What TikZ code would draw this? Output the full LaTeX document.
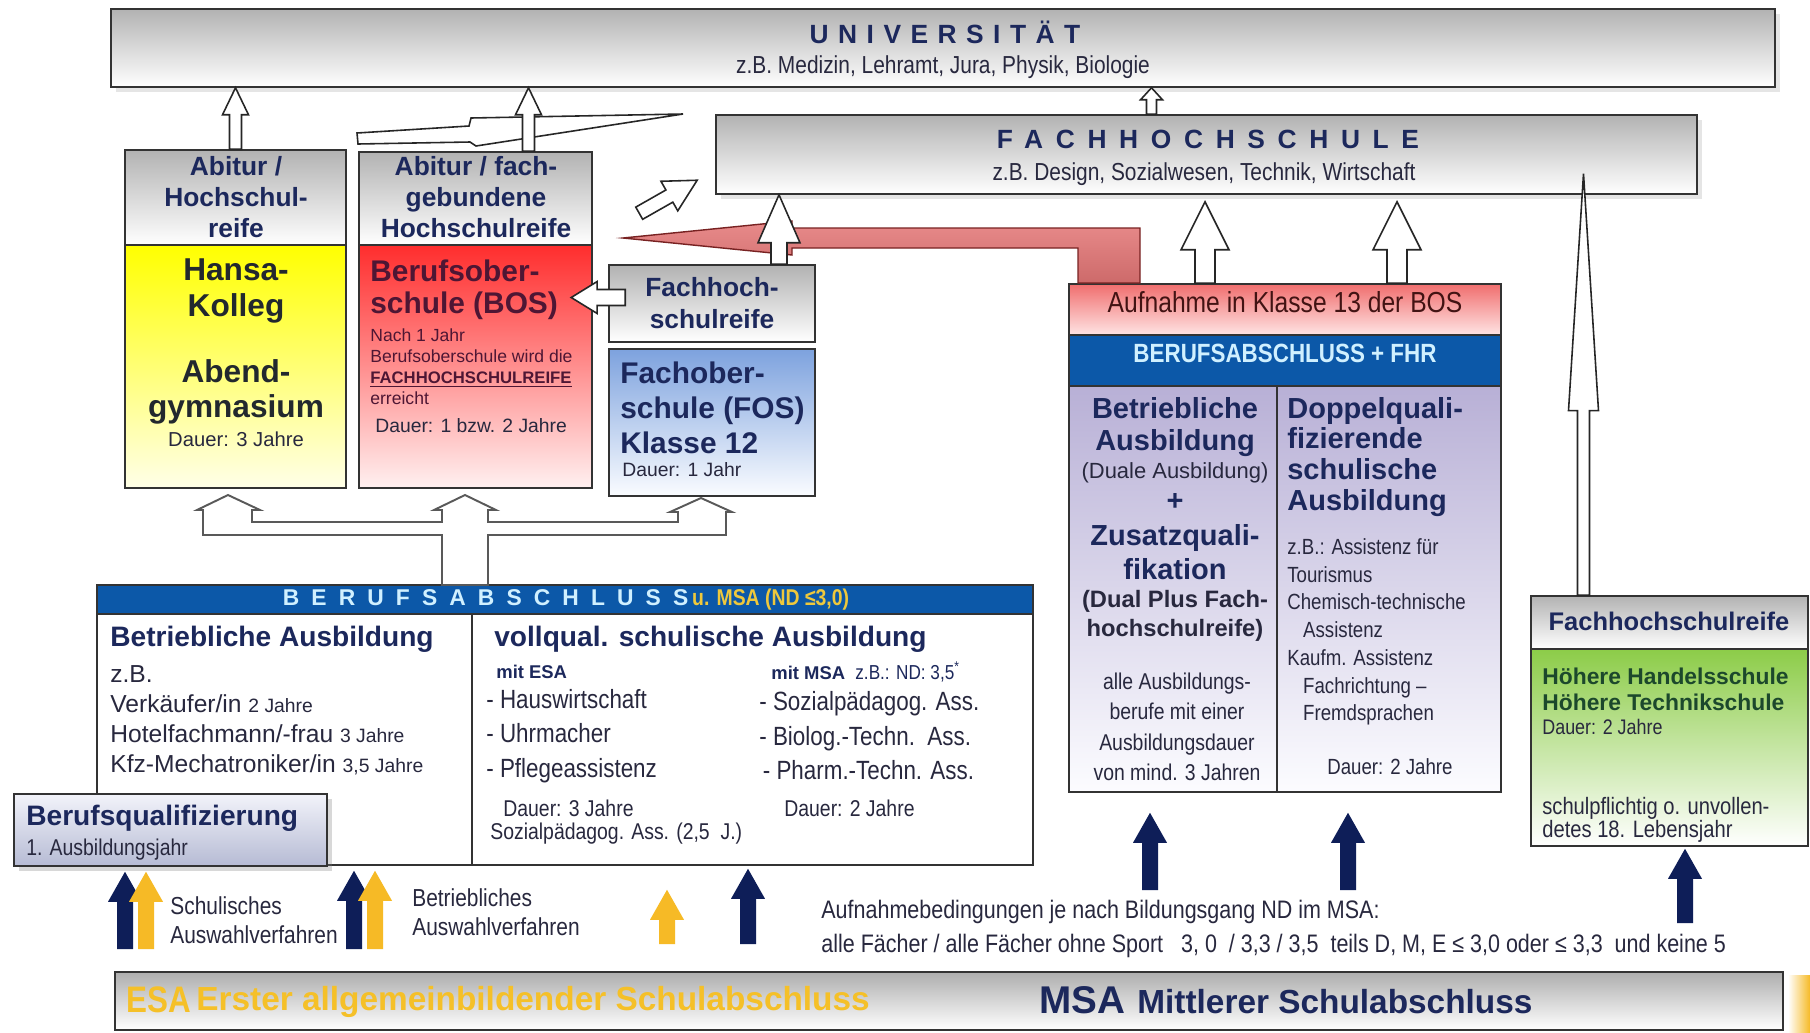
\documentclass[tikz,border=0pt]{standalone}
\usepackage{fontspec}
\setmainfont{Liberation Sans}
\newfontfamily\narrowfont[FakeStretch=0.85]{Liberation Sans}
\usepackage{tikz}
\usetikzlibrary{fit,calc,shadows}

\definecolor{navy}{RGB}{28,40,92}
\definecolor{darktext}{RGB}{40,40,62}
\definecolor{arrnavy}{RGB}{14,30,88}
\definecolor{arryellow}{RGB}{246,186,38}
\definecolor{bandblue}{RGB}{12,88,168}
\definecolor{bandtext}{RGB}{208,240,255}
\definecolor{msayellow}{RGB}{238,200,60}
\definecolor{esayellow}{RGB}{245,192,40}
\definecolor{bostext}{RGB}{78,22,52}
\definecolor{hansatext}{RGB}{34,40,46}
\definecolor{greentext}{RGB}{28,72,44}
\definecolor{redfill}{RGB}{228,118,118}
\definecolor{redline}{RGB}{120,34,34}
\definecolor{hansatop}{RGB}{255,255,0}
\definecolor{hansabot}{RGB}{255,255,232}
\definecolor{bostop}{RGB}{255,45,45}
\definecolor{bosbot}{RGB}{255,240,240}
\definecolor{fostop}{RGB}{125,162,222}
\definecolor{fosbot}{RGB}{250,252,255}
\definecolor{aufntop}{RGB}{240,110,110}
\definecolor{aufnbot}{RGB}{255,228,228}
\definecolor{lavtop}{RGB}{184,176,214}
\definecolor{lavbot}{RGB}{252,252,255}
\definecolor{bqtop}{RGB}{242,243,250}
\definecolor{bqbot}{RGB}{182,187,212}
\definecolor{greentop}{RGB}{140,204,72}
\definecolor{greenbot}{RGB}{255,255,255}

\newcommand{\fsz}[2]{\fontsize{#1}{#2}\selectfont}

% block arrow from #2 (tail) to #3 (tip); widths in px
\newcommand{\blockarrow}[6][]{%
  \path let \p1=(#2), \p2=(#3) in
    \pgfextra{\pgfmathsetmacro\tmpA{atan2(\y2-\y1,\x2-\x1)}%
      \pgfmathsetmacro\tmpL{veclen(\x2-\x1,\y2-\y1)/0.569055}%
      \xdef\baAng{\tmpA}\xdef\baLen{\tmpL}\xdef\baX{\x1}\xdef\baY{\y1}};
  \draw[hollow,#1,shift={(\baX,\baY)},rotate=\baAng,x=0.02cm,y=0.02cm]
    (0,-#4) -- ({\baLen-#6},-#4) -- ({\baLen-#6},-#5) -- (\baLen,0)
    -- ({\baLen-#6},#5) -- ({\baLen-#6},#4) -- (0,#4) -- cycle;}

\begin{document}
\begin{tikzpicture}[x=0.02cm,y=-0.02cm,
    box/.style={draw=black!80,line width=0.9pt,inner sep=0pt},
    greybox/.style={box,top color=black!30,bottom color=white},
    yellowbox/.style={box,top color=hansatop,bottom color=hansabot},
    redbox/.style={box,top color=bostop,bottom color=bosbot},
    bluebox/.style={box,top color=fostop,bottom color=fosbot},
    pinkbox/.style={box,top color=aufntop,bottom color=aufnbot},
    lavbox/.style={box,top color=lavtop,bottom color=lavbot},
    bqbox/.style={box,top color=bqtop,bottom color=bqbot},
    greenbox/.style={box,top color=greentop,bottom color=greenbot},
    bandbox/.style={box,fill=bandblue},
    lbl/.style={inner sep=0pt,text=navy},
    hollow/.style={draw=black!85,fill=white,line width=0.9pt,line join=miter},
    navyfill/.style={draw=none,fill=arrnavy},
    yellowfill/.style={draw=none,fill=arryellow}]

  \useasboundingbox (0,0) rectangle (1810,1032);
  \fill[white] (0,0) rectangle (1810,1032);

  % Universitaet / Fachhochschule
  \node[greybox,drop shadow={opacity=0.2},fit={(111,9)(1775,87)}] (uni) {};
  \node[lbl,font=\fsz{15}{17}\bfseries] (unit) at (945,32)
    {\addfontfeature{LetterSpace=36}UNIVERSITÄT};
  \node[lbl,text=darktext,font=\narrowfont\fsz{14}{15}] (unis) at (943,67)
    {z.B. Medizin, Lehramt, Jura, Physik, Biologie};

  \node[greybox,drop shadow={opacity=0.2},fit={(716,115)(1697,194)}] (fh) {};
  \node[lbl,font=\fsz{15}{17}\bfseries] (fht) at (1208,139)
    {\addfontfeature{LetterSpace=48}FACHHOCHSCHULE};
  \node[lbl,text=darktext,font=\narrowfont\fsz{14}{15}] (fhs) at (1204,174)
    {z.B. Design, Sozialwesen, Technik, Wirtschaft};

  % Hansa-Kolleg
  \node[greybox,fit={(125,150)(346,245)}] (abi1) {};
  \node[lbl,align=center,font=\fsz{15}{17.7}\bfseries] (abi1t) at (236,197)
    {Abitur /\\Hochschul-\\reife};
  \node[yellowbox,fit={(125,245)(346,488)}] (hansa) {};
  \node[lbl,align=center,text=hansatext,font=\fsz{18}{20}\bfseries] (hansat) at (236,291)
    {Hansa-\\Kolleg};
  \node[lbl,align=center,text=hansatext,font=\fsz{18}{20}\bfseries] (abendt) at (236,392)
    {Abend-\\gymnasium};
  \node[lbl,text=darktext,font=\fsz{11.5}{14}] (hansad) at (236,439) {Dauer: 3 Jahre};

  % BOS
  \node[greybox,fit={(359,152)(592,245)}] (abi2) {};
  \node[lbl,align=center,font=\fsz{15}{17.7}\bfseries] (abi2t) at (476,197)
    {Abitur / fach-\\gebundene\\Hochschulreife};
  \node[redbox,fit={(359,245)(592,488)}] (bos) {};
  \node[lbl,anchor=west,align=left,text=bostext,font=\fsz{17}{18.5}\bfseries] (bost) at (370,290)
    {Berufsober-\\schule (BOS)};
  \node[lbl,anchor=west,align=left,text=bostext,font=\fsz{10}{12}] (bosn) at (370,367)
    {Nach 1 Jahr\\Berufsoberschule wird die\\{\fsz{9.5}{12}\bfseries\underline{FACHHOCHSCHULREIFE}}\\erreicht};
  \node[lbl,anchor=west,text=darktext,font=\fsz{11}{13}] (bosd) at (375,426) {Dauer: 1 bzw. 2 Jahre};

  % FOS
  \node[greybox,fit={(609,265)(815,342)}] (fhrA) {};
  \node[lbl,align=center,font=\fsz{15}{18}\bfseries] (fhrAt) at (712,303)
    {Fachhoch-\\schulreife};
  \node[bluebox,fit={(609,349)(815,496)}] (fos) {};
  \node[lbl,anchor=west,align=left,font=\fsz{17}{20}\bfseries] (fost) at (620,408)
    {Fachober-\\schule (FOS)\\Klasse 12};
  \node[lbl,anchor=west,text=darktext,font=\fsz{11}{13}] (fosd) at (622,470) {Dauer: 1 Jahr};

  % Berufsabschluss + FHR
  \node[pinkbox,fit={(1069,284)(1501,335)}] (aufn) {};
  \node[lbl,text=redline!55!black,font=\narrowfont\fsz{16.5}{18}] (aufnt) at (1285,302)
    {Aufnahme in Klasse 13 der BOS};
  \node[bandbox,fit={(1069,335)(1501,386)}] (fhrband) {};
  \node[lbl,text=bandtext,font=\narrowfont\fsz{15}{17}\bfseries] (fhrbandt) at (1285,353)
    {BERUFSABSCHLUSS + FHR};
  \node[lavbox,fit={(1069,386)(1501,792)}] (dual) {};
  \draw[draw=black!80,line width=0.9pt] ($(dual.north)+(-8,0)$) -- ($(dual.south)+(-8,0)$);

  \node[lbl,align=center,font=\fsz{16.5}{18.2}\bfseries] (dual1) at (1175,427)
    {Betriebliche\\Ausbildung};
  \node[lbl,text=darktext,font=\fsz{12.5}{14}] (dual2) at (1175,473) {(Duale Ausbildung)};
  \node[lbl,font=\fsz{16.5}{18}\bfseries] (dual3) at (1175,502) {+};
  \node[lbl,align=center,font=\fsz{16.5}{19.4}\bfseries] (dual4) at (1175,552)
    {Zusatzquali-\\fikation};
  \node[lbl,align=center,text=darktext,font=\fsz{13.5}{16.5}\bfseries] (dual5) at (1175,616)
    {(Dual Plus Fach-\\hochschulreife)};
  \node[lbl,align=center,text=darktext,font=\narrowfont\fsz{13}{17.3}] (dual6) at (1177,727)
    {alle Ausbildungs-\\berufe mit einer\\Ausbildungsdauer\\von mind. 3 Jahren};

  \node[lbl,anchor=west,align=left,font=\fsz{16.5}{17.6}\bfseries] (dq1) at (1287,457)
    {Doppelquali-\\fizierende\\schulische\\Ausbildung};
  \node[lbl,anchor=west,align=left,text=darktext,font=\narrowfont\fsz{12.5}{15.8}] (dq2) at (1287,632)
    {z.B.: Assistenz für\\Tourismus\\Chemisch-technische\\\hspace*{9pt}Assistenz\\Kaufm. Assistenz\\\hspace*{9pt}Fachrichtung \textendash\\\hspace*{9pt}Fremdsprachen};
  \node[lbl,anchor=west,text=darktext,font=\narrowfont\fsz{12.5}{14}] (dq3) at (1327,767) {Dauer: 2 Jahre};

  % Berufsabschluss u. MSA
  \node[bandbox,fit={(97,585)(1033,614)}] (baband) {};
  \node[lbl,text=bandtext,font=\fsz{13}{14}\bfseries] (babandt) at (566,600)
    {{\addfontfeature{LetterSpace=53}BERUFSABSCHLUSS}\,{\narrowfont\color{msayellow}u. MSA (ND ≤3,0)}};
  \node[box,fill=white,fit={(97,614)(1033,865)}] (ba) {};
  \draw[draw=black!80,line width=0.9pt] ($(ba.north west)+(376,0)$) -- ($(ba.south west)+(376,0)$);

  \node[lbl,anchor=west,font=\fsz{16}{18}\bfseries] (bat1) at (110,639) {Betriebliche Ausbildung};
  \node[lbl,anchor=west,align=left,text=darktext,font=\fsz{14}{17}] (bat2) at (110,720)
    {z.B.\\Verkäufer/in {\fsz{11}{17}2 Jahre}\\Hotelfachmann/-frau {\fsz{11}{17}3 Jahre}\\Kfz-Mechatroniker/in {\fsz{11}{17}3,5 Jahre}};
  \node[lbl,anchor=west,font=\fsz{16}{18}\bfseries] (bat3) at (494,639) {vollqual. schulische Ausbildung};
  \node[lbl,anchor=west,font=\fsz{10.5}{12}\bfseries] (bat4) at (496,672) {mit ESA};
  \node[lbl,anchor=west,font=\fsz{10.5}{12}] (bat5) at (771,672)
    {\textbf{mit MSA}\ \ {\narrowfont\fsz{11.5}{12}z.B.: ND: 3,5\textsuperscript{*}}};
  \node[lbl,anchor=west,align=left,text=darktext,font=\narrowfont\fsz{15}{19.6}] (bat6) at (486,736)
    {- Hauswirtschaft\\- Uhrmacher\\- Pflegeassistenz};
  \node[lbl,anchor=west,align=left,text=darktext,font=\narrowfont\fsz{15}{19.6}] (bat7) at (759,736)
    {- Sozialpädagog. Ass.\\- Biolog.-Techn.\ \ Ass.\\\hspace*{2pt}- Pharm.-Techn. Ass.};
  \node[lbl,anchor=west,text=darktext,font=\narrowfont\fsz{13}{15}] (bat8) at (503,808) {Dauer: 3 Jahre};
  \node[lbl,anchor=west,text=darktext,font=\narrowfont\fsz{13}{15}] (bat9) at (490,834) {Sozialpädagog. Ass. (2,5\ \ J.)};
  \node[lbl,anchor=west,text=darktext,font=\narrowfont\fsz{13}{15}] (bat10) at (784,808) {Dauer: 2 Jahre};

  % Berufsqualifizierung
  \node[bqbox,drop shadow={opacity=0.3},fit={(14,794)(327,866)}] (bq) {};
  \node[lbl,anchor=west,font=\fsz{16}{18}\bfseries] (bqt) at (26,818) {Berufsqualifizierung};
  \node[lbl,anchor=west,text=darktext,font=\narrowfont\fsz{13}{15}] (bqs) at (26,850) {1. Ausbildungsjahr};

  % Hoehere Handels-/Technikschule
  \node[greybox,fit={(1531,596)(1808,649)}] (fhr2) {};
  \node[lbl,font=\fsz{14.5}{16}\bfseries] (fhr2t) at (1669,621) {Fachhochschulreife};
  \node[greenbox,fit={(1531,649)(1808,846)}] (hhs) {};
  \node[lbl,anchor=west,align=left,text=greentext,font=\fsz{13}{14.8}\bfseries] (hhst) at (1542,689)
    {Höhere Handelsschule\\Höhere Technikschule};
  \node[lbl,anchor=west,text=darktext,font=\narrowfont\fsz{12}{14}] (hhsd) at (1542,727) {Dauer: 2 Jahre};
  \node[lbl,anchor=west,align=left,text=darktext,font=\narrowfont\fsz{13.5}{13.2}] (hhsl) at (1542,820)
    {schulpflichtig o. unvollen-\\detes 18. Lebensjahr};

  % ESA / MSA
  \node[box,top color=black!32,bottom color=white,fit={(115,972)(1783,1030)}] (strip) {};
  \node[lbl,anchor=west,text=esayellow,font=\narrowfont\fsz{21}{22}\bfseries] (esa) at (126,1000) {ESA};
  \node[lbl,anchor=west,text=esayellow,font=\fsz{19}{22}\bfseries] (esat) at (196,1002)
    {Erster allgemeinbildender Schulabschluss};
  \node[lbl,anchor=west,font=\fsz{22}{24}\bfseries] (msa) at (1039,1000) {MSA};
  \node[lbl,anchor=west,font=\fsz{19}{22}\bfseries] (msat) at (1137,1002) {Mittlerer Schulabschluss};
  \shade[left color=white,right color=arryellow] (1788,975) rectangle (1810,1032);

  \node[lbl,anchor=west,align=left,text=darktext,font=\narrowfont\fsz{14}{16.5}] (schul) at (170,920)
    {Schulisches\\Auswahlverfahren};
  \node[lbl,anchor=west,align=left,text=darktext,font=\narrowfont\fsz{14}{16.5}] (betr) at (412,912)
    {Betriebliches\\Auswahlverfahren};
  \node[lbl,anchor=west,text=darktext,font=\narrowfont\fsz{14.4}{16}] (aufb1) at (821,912)
    {Aufnahmebedingungen je nach Bildungsgang ND im MSA:};
  \node[lbl,anchor=west,text=darktext,font=\narrowfont\fsz{14.4}{16}] (aufb2) at (821,946)
    {alle Fächer / alle Fächer ohne Sport\ \ \ 3, 0\ \ / 3,3 / 3,5\ \ teils D, M, E ≤ 3,0 oder ≤ 3,3\ \ und keine 5};

  % red arrow Aufnahme -> BOS
  \draw[top color=redfill!85!white,bottom color=redfill!90!black,draw=redline,line width=0.8pt]
    (623,238) -- (792,221) -- (792,228) -- (1140,228) -- (1140,283) -- (1078,283)
    -- (1078,248) -- (792,248) -- (792,255) -- cycle;

  % thin wedge arrow
  \draw[hollow] (357,133) -- (469,126) -- (471,118) -- (683,114) -- (476,146)
    -- (470,142) -- (358,144) -- cycle;

  % hollow arrows
  \coordinate (a2) at ($(abi2.north)+(53,0)$);
  \coordinate (fu) at ($(fh.north)+(-55,0)$);
  \coordinate (ff) at ($(fhrA.north)+(67,0)$);
  \coordinate (au1) at ($(aufn.north)+(-80,0)$);
  \coordinate (au2) at ($(aufn.north)+(112,0)$);
  \coordinate (fr) at ($(fhr2.north)+(-86,0)$);
  \coordinate (fb) at ($(fhrA.west)+(17,-6)$);
  \coordinate (dg1) at ($(fhrA.north west)+(31,-51)$);
  \coordinate (dg2) at ($(fhrA.north west)+(89,-84)$);

  \blockarrow{abi1.north}{abi1.north |- uni.south}{6}{13}{27}
  \blockarrow{a2}{a2 |- uni.south}{6}{13}{27}
  \blockarrow{fu}{fu |- uni.south}{5}{11}{12}
  \blockarrow{ff}{ff |- fh.south}{8}{21}{48}
  \blockarrow{au1}{$(au1 |- fh.south)+(0,7)$}{10}{24}{48}
  \blockarrow{au2}{$(au2 |- fh.south)+(0,7)$}{10}{24}{48}
  \blockarrow{fr}{$(fr |- fh.south)+(0,-21)$}{6}{15}{237}
  \blockarrow{fb}{$(fb)+(-54,0)$}{8}{16}{26}
  \blockarrow{dg1}{dg2}{7}{17}{32}

  % hollow rake from Berufsabschluss
  \draw[hollow,draw=black!65,line width=1.1pt]
    (442,585) -- (442,535) -- (203,535) -- (203,510) -- (197,510) -- (228,495)
    -- (260,510) -- (252,510) -- (252,522) -- (442,522) -- (442,510) -- (434,510)
    -- (465,495) -- (496,510) -- (488,510) -- (488,522) -- (678,522) -- (678,512)
    -- (670,512) -- (701,498) -- (732,512) -- (726,512) -- (726,535) -- (488,535)
    -- (488,585) -- cycle;

  % entry arrows
  \coordinate (e1) at (125,949);
  \coordinate (e2) at (146,949);
  \coordinate (e3) at (354,949);
  \coordinate (e4) at (375,949);
  \coordinate (e5) at (667,944);
  \coordinate (e6) at (748,944);
  \coordinate (e7) at (1150,890);
  \coordinate (e8) at (1348,890);
  \coordinate (e9) at (1685,923);
  \blockarrow[navyfill]{e1}{$(e1 |- bq.south)+(0,5)$}{8}{17}{30}
  \blockarrow[yellowfill]{e2}{$(e2 |- bq.south)+(0,5)$}{8}{17}{30}
  \blockarrow[navyfill]{e3}{$(e3 |- ba.south)+(0,5)$}{8}{17}{30}
  \blockarrow[yellowfill]{e4}{$(e4 |- ba.south)+(0,5)$}{8}{17}{30}
  \blockarrow[yellowfill]{e5}{$(e5 |- ba.south)+(0,24)$}{8}{17}{30}
  \blockarrow[navyfill]{e6}{$(e6 |- ba.south)+(0,3)$}{8}{17}{30}
  \blockarrow[navyfill]{e7}{$(e7 |- dual.south)+(0,20)$}{8}{17}{30}
  \blockarrow[navyfill]{e8}{$(e8 |- dual.south)+(0,20)$}{8}{17}{30}
  \blockarrow[navyfill]{e9}{$(e9 |- hhs.south)+(0,2)$}{8}{17}{30}
\end{tikzpicture}
\end{document}
